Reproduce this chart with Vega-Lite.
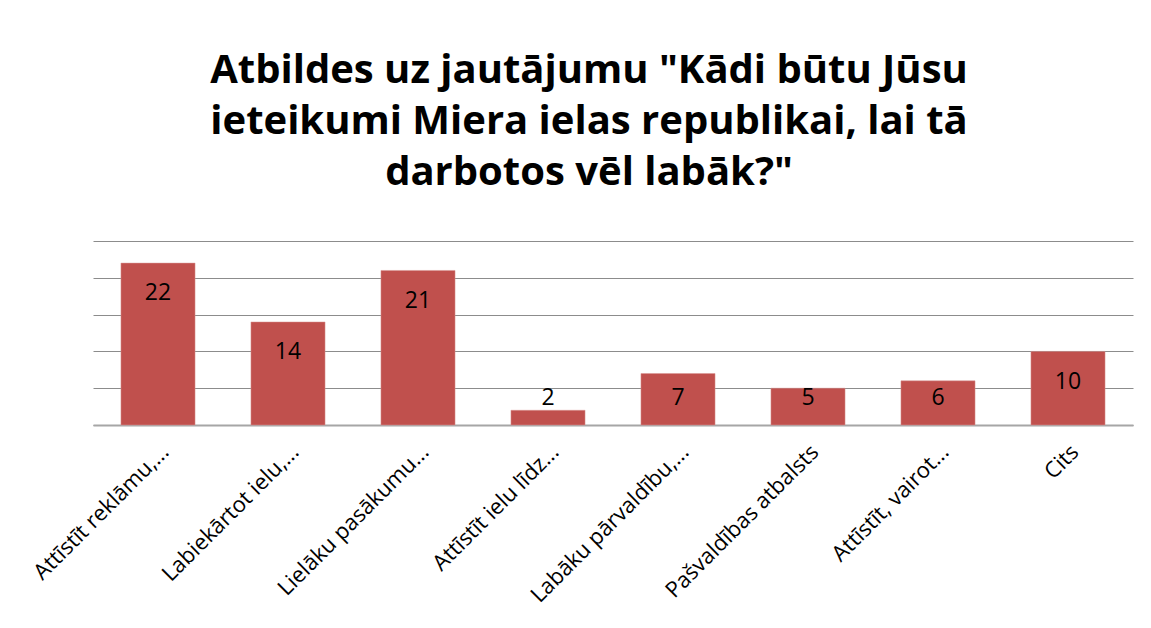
{
  "$schema": "https://vega.github.io/schema/vega-lite/v6.json",
  "width": 1040,
  "height": 184,
  "autosize": {"type": "none"},
  "padding": {"left": 93, "top": 241, "right": 18, "bottom": 203},
  "background": "white",
  "config": {"view": {"stroke": null}},
  "title": {
    "text": ["Atbildes uz jautājumu \"Kādi būtu Jūsu", "ieteikumi Miera ielas republikai, lai tā", "darbotos vēl labāk?\""],
    "font": "Open Sans",
    "fontSize": 40,
    "fontWeight": "bold",
    "color": "black",
    "anchor": "middle",
    "frame": "group",
    "offset": 48,
    "lineHeight": 51,
    "dx": -24
  },
  "data": {
    "values": [
      {"answer": "Attīstīt reklāmu,...", "count": 22},
      {"answer": "Labiekārtot ielu,...", "count": 14},
      {"answer": "Lielāku pasākumu...", "count": 21},
      {"answer": "Attīstīt ielu līdz...", "count": 2},
      {"answer": "Labāku pārvaldību,...", "count": 7},
      {"answer": "Pašvaldības atbalsts", "count": 5},
      {"answer": "Attīstīt, vairot...", "count": 6},
      {"answer": "Cits", "count": 10}
    ]
  },
  "encoding": {
    "x": {
      "field": "answer",
      "type": "nominal",
      "sort": null,
      "scale": {"paddingInner": 0.43, "paddingOuter": 0.215},
      "axis": {
        "title": null,
        "labelAngle": -45,
        "labelFont": "Open Sans",
        "labelFontSize": 22,
        "labelColor": "black",
        "labelPadding": 16,
        "labelLimit": 0,
        "ticks": false,
        "domainColor": "#A6A6A6",
        "domainWidth": 2
      }
    }
  },
  "layer": [
    {
      "mark": {"type": "bar", "color": "#C0504D", "stroke": "#D99694", "strokeWidth": 0.5},
      "encoding": {
        "y": {
          "field": "count",
          "type": "quantitative",
          "scale": {"domain": [0, 25]},
          "axis": {
            "title": null,
            "values": [0, 5, 10, 15, 20, 25],
            "labels": false,
            "ticks": false,
            "domain": false,
            "grid": true,
            "gridColor": "#8C8C8C",
            "gridWidth": 1
          }
        }
      }
    },
    {
      "transform": [{"calculate": "max(datum.count - 4.1, 3.67)", "as": "labelY"}],
      "mark": {"type": "text", "font": "Open Sans", "fontSize": 23, "color": "black", "baseline": "middle"},
      "encoding": {
        "y": {
          "field": "labelY",
          "type": "quantitative",
          "scale": {"domain": [0, 25]},
          "axis": {
            "title": null,
            "values": [0, 5, 10, 15, 20, 25],
            "labels": false,
            "ticks": false,
            "domain": false,
            "grid": true,
            "gridColor": "#8C8C8C",
            "gridWidth": 1
          }
        },
        "text": {"field": "count", "type": "quantitative"}
      }
    }
  ]
}
